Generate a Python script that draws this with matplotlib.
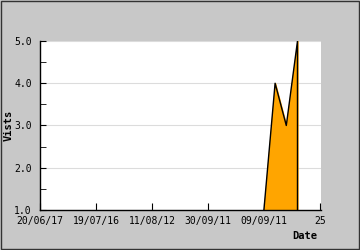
import matplotlib
matplotlib.use("Agg")
import matplotlib.pyplot as plt
from matplotlib.ticker import MultipleLocator, FormatStrFormatter

# visits over time (x is position along the date axis)
tick_labels = ["20/06/17", "19/07/16", "11/08/12", "30/09/11", "09/09/11", "25"]
tick_pos = [0, 1, 2, 3, 4, 5]
x_vals = [4.0, 4.2, 4.4, 4.6]
visits = [1.0, 4.0, 3.0, 5.0]

plt.rcParams["font.family"] = "DejaVu Sans Mono"
plt.rcParams["font.size"] = 7

bg = "#c8c8c8"
fig = plt.figure(figsize=(3.6, 2.5), dpi=100, facecolor=bg)
ax = fig.add_axes([40 / 360, 40 / 250, 281 / 360, 169 / 250])
ax.set_facecolor("white")

ax.fill_between(x_vals, 1.0, visits, color="#ffa500", zorder=2)
ax.plot(x_vals + [x_vals[-1]], visits + [1.0], color="black", lw=1, zorder=3)

ax.set_xlim(0, 5.02)
ax.set_ylim(1, 5)
ax.set_xticks(tick_pos)
ax.set_xticklabels(tick_labels)
ax.yaxis.set_major_locator(MultipleLocator(1))
ax.yaxis.set_minor_locator(MultipleLocator(0.5))
ax.yaxis.set_major_formatter(FormatStrFormatter("%.1f"))
ax.grid(axis="y", color="#dcdcdc", lw=0.8, zorder=1)

ax.tick_params(axis="both", which="both", direction="in", colors="black", labelcolor="black")
ax.tick_params(axis="y", which="major", length=4, pad=6)
ax.tick_params(axis="y", which="minor", length=4)
ax.tick_params(axis="x", length=5, pad=4)

for s in ["top", "right"]:
    ax.spines[s].set_visible(False)
for s in ["left", "bottom"]:
    ax.spines[s].set_color("black")
    ax.spines[s].set_linewidth(1)

fig.text(9 / 360, 125 / 250, "Vists", rotation=90, ha="center", va="center", fontweight="bold", fontsize=7.5)
fig.text(305 / 360, 14 / 250, "Date", ha="center", va="center", fontweight="bold", fontsize=7.5)

fig.patches.append(plt.Rectangle((0.002, 0.003), 0.995, 0.994, transform=fig.transFigure,
                                 fill=False, edgecolor="#333333", lw=1))

fig.savefig("out.png", dpi=100, facecolor=bg)
